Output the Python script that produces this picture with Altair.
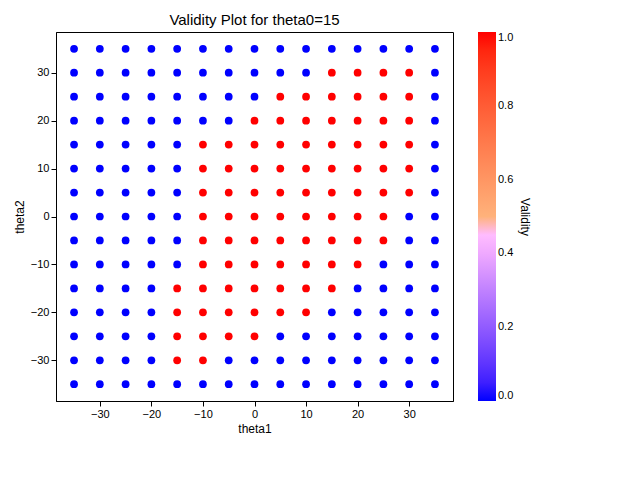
import altair as alt
import pandas as pd

grid = [-35, -30, -25, -20, -15, -10, -5, 0, 5, 10, 15, 20, 25, 30, 35]
# (theta2, first red theta1, last red theta1)
red_ranges = {
    30: (15, 30), 25: (5, 30), 20: (0, 30), 15: (-10, 30), 10: (-10, 30),
    5: (-10, 30), 0: (-10, 25), -5: (-10, 25), -10: (-10, 20),
    -15: (-15, 15), -20: (-15, 10), -25: (-15, 0), -30: (-15, -10),
}

rows = []
for t2 in grid:
    for t1 in grid:
        lo, hi = red_ranges.get(t2, (99, -99))
        rows.append({"theta1": t1, "theta2": t2, "validity": 1 if lo <= t1 <= hi else 0})
df = pd.DataFrame(rows)

chart = alt.Chart(df).mark_circle(size=60, opacity=1).encode(
    x=alt.X("theta1:Q", scale=alt.Scale(domain=[-38.5, 38.5], nice=False),
            axis=alt.Axis(values=[-30, -20, -10, 0, 10, 20, 30], grid=False, title="theta1")),
    y=alt.Y("theta2:Q", scale=alt.Scale(domain=[-38.5, 38.5], nice=False),
            axis=alt.Axis(values=[-30, -20, -10, 0, 10, 20, 30], grid=False, title="theta2")),
    color=alt.Color("validity:Q",
                    scale=alt.Scale(domain=[0, 0.5, 1], range=["#0000ff", "#ffffff", "#ff0000"]),
                    legend=alt.Legend(title="Validity", gradientLength=369, gradientThickness=18,
                                      titleOrient="right", values=[0, 0.2, 0.4, 0.6, 0.8, 1.0],
                                      format=".1f", offset=25, titleFontWeight="normal", titleFontSize=12,
                                      labelFontSize=11)),
).properties(
    width=397, height=369,
    title=alt.TitleParams("Validity Plot for theta0=15", fontSize=15, fontWeight="normal"),
).configure_axis(
    labelFontSize=11, titleFontSize=12, titleFontWeight="normal", domainColor="black", tickColor="black",
    labelColor="black", titleColor="black",
).configure_view(stroke="black")

chart.save("out.html", embed_options={"renderer": "svg", "actions": False})
